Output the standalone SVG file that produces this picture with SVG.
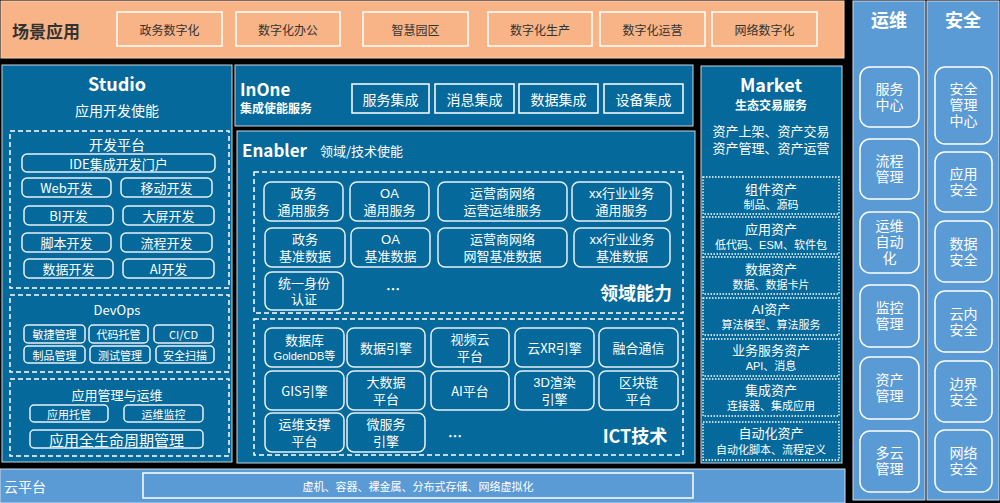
<svg xmlns="http://www.w3.org/2000/svg" width="1000" height="503" viewBox="0 0 1000 503">
<style>
text{font-family:"Noto Sans CJK SC","Noto Sans",sans-serif;fill:#fff;text-anchor:middle;dominant-baseline:central}
text.ml{font-family:"Liberation Sans","Noto Sans CJK SC",sans-serif}
.dk{fill:#333}
.b{font-weight:bold}
.panel{fill:#05699B;stroke:#c8d4dc;stroke-width:1}
.lpanel{fill:#5B9BD5;stroke:#d0dcea;stroke-width:1}
.peach{fill:#F8B486;stroke:#f6d2bc;stroke-width:1}
.wb{fill:none;stroke:#fff;stroke-width:1.5}
.rb{fill:none;stroke:#e8f0f6;stroke-width:1.5}
.dash{fill:none;stroke:#fff;stroke-width:1.5;stroke-dasharray:5 3}
.dot{fill:none;stroke:#fff;stroke-width:1.3;stroke-dasharray:1.5 1.5}
.s12{font-size:12px}.s13{font-size:13px}.s11{font-size:11px}.s14{font-size:14px}
</style>
<rect width="1000" height="503" fill="#000"/>

<g id="scene">
<rect class="peach" x="1" y="1" width="843" height="57"/>
<text class="dk b" x="46" y="30" style="font-size:17px">场景应用</text>
<rect class="wb" x="117" y="12" width="105" height="34"/><text class="dk s12" x="169.5" y="29">政务数字化</text>
<rect class="wb" x="236" y="12" width="104" height="34"/><text class="dk s12" x="288" y="29">数字化办公</text>
<rect class="wb" x="363" y="12" width="105" height="34"/><text class="dk s12" x="415.5" y="29">智慧园区</text>
<rect class="wb" x="488" y="12" width="104" height="34"/><text class="dk s12" x="540" y="29">数字化生产</text>
<rect class="wb" x="600" y="12" width="105" height="34"/><text class="dk s12" x="652.5" y="29">数字化运营</text>
<rect class="wb" x="712" y="12" width="105" height="34"/><text class="dk s12" x="764.5" y="29">网络数字化</text>
</g>

<g id="studio">
<rect class="panel" x="2" y="65" width="230" height="397"/>
<text class="b" x="117" y="83" style="font-size:18px">Studio</text>
<text class="s14" x="117" y="110">应用开发使能</text>
<rect class="dash" x="10" y="131" width="219" height="157"/>
<text class="s14" x="117" y="144">开发平台</text>
<rect class="rb" x="22" y="154" width="193" height="18" rx="5"/><text class="s13" x="118.5" y="163">IDE集成开发门户</text>
<rect class="rb" x="22" y="178" width="89" height="19" rx="5"/><text class="s13" x="66.5" y="187.5">Web开发</text>
<rect class="rb" x="121" y="178" width="91" height="19" rx="5"/><text class="s13" x="166.5" y="187.5">移动开发</text>
<rect class="rb" x="24" y="206" width="89" height="19" rx="5"/><text class="s13" x="68.5" y="215.5">BI开发</text>
<rect class="rb" x="123" y="206" width="91" height="19" rx="5"/><text class="s13" x="168.5" y="215.5">大屏开发</text>
<rect class="rb" x="22" y="233" width="89" height="19" rx="5"/><text class="s13" x="66.5" y="242.5">脚本开发</text>
<rect class="rb" x="121" y="233" width="91" height="19" rx="5"/><text class="s13" x="166.5" y="242.5">流程开发</text>
<rect class="rb" x="24" y="259" width="89" height="19" rx="5"/><text class="s13" x="68.5" y="268.5">数据开发</text>
<rect class="rb" x="123" y="259" width="91" height="19" rx="5"/><text class="s13" x="168.5" y="268.5">AI开发</text>

<rect class="dash" x="10" y="295" width="219" height="77"/>
<text class="s13" x="117" y="309">DevOps</text>
<rect class="rb" x="24" y="325" width="61" height="18" rx="4"/><text class="s11" x="54.5" y="334">敏捷管理</text>
<rect class="rb" x="89" y="325" width="59" height="18" rx="4"/><text class="s11" x="118.5" y="334">代码托管</text>
<rect class="rb" x="154" y="325" width="59" height="18" rx="4"/><text class="s11" x="183.5" y="334">CI/CD</text>
<rect class="rb" x="24" y="346" width="61" height="17" rx="4"/><text class="s11" x="54.5" y="354.5">制品管理</text>
<rect class="rb" x="90" y="346" width="60" height="17" rx="4"/><text class="s11" x="120" y="354.5">测试管理</text>
<rect class="rb" x="156" y="346" width="58" height="17" rx="4"/><text class="s11" x="185" y="354.5">安全扫描</text>

<rect class="dash" x="10" y="379" width="219" height="77"/>
<text class="s13" x="117" y="394">应用管理与运维</text>
<rect class="rb" x="30" y="405" width="78" height="17" rx="4"/><text class="s11" x="69" y="413.5">应用托管</text>
<rect class="rb" x="124" y="405" width="79" height="17" rx="4"/><text class="s11" x="163.5" y="413.5">运维监控</text>
<rect class="rb" x="30" y="430" width="173" height="18" rx="4"/><text x="116.5" y="439" style="font-size:15px">应用全生命周期管理</text>
</g>

<g id="inone">
<rect class="panel" x="235" y="65" width="458" height="61"/>
<text class="b" x="240" y="88" style="font-size:17px;text-anchor:start">InOne</text>
<text class="b s12" x="240" y="107" style="text-anchor:start">集成使能服务</text>
<rect class="wb" x="352" y="84" width="77" height="29"/><text class="s14" x="390.5" y="98.5">服务集成</text>
<rect class="wb" x="435" y="84" width="79" height="29"/><text class="s14" x="474.5" y="98.5">消息集成</text>
<rect class="wb" x="519" y="84" width="79" height="29"/><text class="s14" x="558.5" y="98.5">数据集成</text>
<rect class="wb" x="604" y="84" width="79" height="29"/><text class="s14" x="643.5" y="98.5">设备集成</text>
</g>

<g id="enabler">
<rect class="panel" x="237" y="131" width="458" height="332"/>
<text class="b" x="242" y="149" style="font-size:17px;text-anchor:start">Enabler</text>
<text class="s13" x="320" y="150" style="text-anchor:start">领域/技术使能</text>

<rect class="dash" x="254" y="172" width="429" height="141"/>
<rect class="rb" x="264" y="182" width="79" height="39" rx="7"/><text class="s13 ml" y="193"><tspan x="303.5">政务</tspan><tspan x="303.5" dy="17">通用服务</tspan></text>
<rect class="rb" x="350" y="182" width="79" height="39" rx="7"/><text class="s13 ml" y="193"><tspan x="389.5">OA</tspan><tspan x="389.5" dy="17">通用服务</tspan></text>
<rect class="rb" x="438" y="182" width="129" height="39" rx="7"/><text class="s13 ml" y="193"><tspan x="502.5">运营商网络</tspan><tspan x="502.5" dy="17">运营运维服务</tspan></text>
<rect class="rb" x="572" y="182" width="99" height="39" rx="7"/><text class="s13 ml" y="193"><tspan x="621.5">xx行业业务</tspan><tspan x="621.5" dy="17">通用服务</tspan></text>
<rect class="rb" x="265" y="228" width="80" height="39" rx="7"/><text class="s13 ml" y="239"><tspan x="305">政务</tspan><tspan x="305" dy="17">基准数据</tspan></text>
<rect class="rb" x="351" y="228" width="79" height="39" rx="7"/><text class="s13 ml" y="239"><tspan x="390.5">OA</tspan><tspan x="390.5" dy="17">基准数据</tspan></text>
<rect class="rb" x="438" y="228" width="129" height="39" rx="7"/><text class="s13 ml" y="239"><tspan x="502.5">运营商网络</tspan><tspan x="502.5" dy="17">网智基准数据</tspan></text>
<rect class="rb" x="574" y="228" width="96" height="39" rx="7"/><text class="s13 ml" y="239"><tspan x="622">xx行业业务</tspan><tspan x="622" dy="17">基准数据</tspan></text>
<rect class="rb" x="265" y="272" width="78" height="38" rx="7"/><text class="s13 ml" y="283"><tspan x="304">统一身份</tspan><tspan x="304" dy="16">认证</tspan></text>
<text class="b s14" x="393" y="288">…</text>
<text class="b" x="636" y="292" style="font-size:18px">领域能力</text>

<rect class="dash" x="254" y="319" width="429" height="136"/>
<rect class="rb" x="265" y="328" width="79" height="39" rx="7"/><text class="s13 ml" y="340"><tspan x="304.5">数据库</tspan><tspan x="304.5" dy="16" style="font-size:11px">GoldenDB等</tspan></text>
<rect class="rb" x="347" y="328" width="78" height="39" rx="7"/><text class="s13" x="386" y="347.5">数据引擎</text>
<rect class="rb" x="431" y="328" width="78" height="39" rx="7"/><text class="s13 ml" y="339"><tspan x="470">视频云</tspan><tspan x="470" dy="17">平台</tspan></text>
<rect class="rb" x="515" y="328" width="79" height="39" rx="7"/><text class="s13" x="554.5" y="347.5">云XR引擎</text>
<rect class="rb" x="599" y="328" width="79" height="39" rx="7"/><text class="s13" x="638.5" y="347.5">融合通信</text>
<rect class="rb" x="265" y="371" width="79" height="39" rx="7"/><text class="s13" x="304.5" y="390.5">GIS引擎</text>
<rect class="rb" x="347" y="371" width="78" height="39" rx="7"/><text class="s13 ml" y="382"><tspan x="386">大数据</tspan><tspan x="386" dy="17">平台</tspan></text>
<rect class="rb" x="431" y="371" width="78" height="39" rx="7"/><text class="s13" x="470" y="390.5">AI平台</text>
<rect class="rb" x="515" y="371" width="79" height="39" rx="7"/><text class="s13 ml" y="382"><tspan x="554.5">3D渲染</tspan><tspan x="554.5" dy="17">引擎</tspan></text>
<rect class="rb" x="599" y="371" width="79" height="39" rx="7"/><text class="s13 ml" y="382"><tspan x="638.5">区块链</tspan><tspan x="638.5" dy="17">平台</tspan></text>
<rect class="rb" x="265" y="413" width="79" height="39" rx="7"/><text class="s13 ml" y="424"><tspan x="304.5">运维支撑</tspan><tspan x="304.5" dy="17">平台</tspan></text>
<rect class="rb" x="347" y="413" width="78" height="39" rx="7"/><text class="s13 ml" y="424"><tspan x="386">微服务</tspan><tspan x="386" dy="17">引擎</tspan></text>
<text class="b s14" x="455" y="435">…</text>
<text class="b" x="635" y="435" style="font-size:18px">ICT技术</text>
</g>

<g id="market">
<rect class="panel" x="701" y="66" width="141" height="397"/>
<text class="b" x="771" y="84" style="font-size:18px">Market</text>
<text class="b s12" x="771" y="104">生态交易服务</text>
<text class="s13 ml" y="131"><tspan x="771">资产上架、资产交易</tspan><tspan x="771" dy="17">资产管理、资产运营</tspan></text>
<rect class="dot" x="703" y="177" width="136" height="37"/><text class="s13 ml" y="189"><tspan x="771">组件资产</tspan><tspan x="771" dy="16" style="font-size:11px">制品、源码</tspan></text>
<rect class="dot" x="703" y="217" width="136" height="37"/><text class="s13 ml" y="229"><tspan x="771">应用资产</tspan><tspan x="771" dy="16" style="font-size:11px">低代码、ESM、软件包</tspan></text>
<rect class="dot" x="703" y="257" width="136" height="37"/><text class="s13 ml" y="269"><tspan x="771">数据资产</tspan><tspan x="771" dy="16" style="font-size:11px">数据、数据卡片</tspan></text>
<rect class="dot" x="703" y="298" width="136" height="37"/><text class="s13 ml" y="309"><tspan x="771">AI资产</tspan><tspan x="771" dy="16" style="font-size:11px">算法模型、算法服务</tspan></text>
<rect class="dot" x="703" y="339" width="136" height="37"/><text class="s13 ml" y="350"><tspan x="771">业务服务资产</tspan><tspan x="771" dy="16" style="font-size:11px">API、消息</tspan></text>
<rect class="dot" x="703" y="379" width="136" height="37"/><text class="s13 ml" y="390"><tspan x="771">集成资产</tspan><tspan x="771" dy="16" style="font-size:11px">连接器、集成应用</tspan></text>
<rect class="dot" x="703" y="422" width="136" height="38"/><text class="s13 ml" y="433"><tspan x="771">自动化资产</tspan><tspan x="771" dy="17" style="font-size:11px">自动化脚本、流程定义</tspan></text>
</g>

<g id="ops">
<rect class="lpanel" x="853" y="1" width="72" height="499"/>
<text class="b" x="889" y="19" style="font-size:18px">运维</text>
<rect class="wb" x="860" y="67" width="59" height="60" rx="10"/><text class="s14 ml" y="89"><tspan x="889.5">服务</tspan><tspan x="889.5" dy="16">中心</tspan></text>
<rect class="wb" x="860" y="139" width="59" height="60" rx="10"/><text class="s14 ml" y="161"><tspan x="889.5">流程</tspan><tspan x="889.5" dy="16">管理</tspan></text>
<rect class="wb" x="860" y="212" width="59" height="61" rx="10"/><text class="s14 ml" y="226"><tspan x="889.5">运维</tspan><tspan x="889.5" dy="16">自动</tspan><tspan x="889.5" dy="16">化</tspan></text>
<rect class="wb" x="860" y="285" width="59" height="62" rx="10"/><text class="s14 ml" y="308"><tspan x="889.5">监控</tspan><tspan x="889.5" dy="16">管理</tspan></text>
<rect class="wb" x="860" y="357" width="59" height="62" rx="10"/><text class="s14 ml" y="380"><tspan x="889.5">资产</tspan><tspan x="889.5" dy="16">管理</tspan></text>
<rect class="wb" x="860" y="431" width="59" height="61" rx="10"/><text class="s14 ml" y="453"><tspan x="889.5">多云</tspan><tspan x="889.5" dy="16">管理</tspan></text>
</g>

<g id="security">
<rect class="lpanel" x="927" y="1" width="72" height="499"/>
<text class="b" x="963" y="19" style="font-size:18px">安全</text>
<rect class="wb" x="935" y="67" width="57" height="77" rx="10"/><text class="s14 ml" y="89"><tspan x="963.5">安全</tspan><tspan x="963.5" dy="16">管理</tspan><tspan x="963.5" dy="16">中心</tspan></text>
<rect class="wb" x="935" y="152" width="57" height="60" rx="10"/><text class="s14 ml" y="174"><tspan x="963.5">应用</tspan><tspan x="963.5" dy="16">安全</tspan></text>
<rect class="wb" x="935" y="221" width="57" height="61" rx="10"/><text class="s14 ml" y="244"><tspan x="963.5">数据</tspan><tspan x="963.5" dy="16">安全</tspan></text>
<rect class="wb" x="935" y="291" width="57" height="61" rx="10"/><text class="s14 ml" y="314"><tspan x="963.5">云内</tspan><tspan x="963.5" dy="16">安全</tspan></text>
<rect class="wb" x="935" y="361" width="57" height="61" rx="10"/><text class="s14 ml" y="384"><tspan x="963.5">边界</tspan><tspan x="963.5" dy="16">安全</tspan></text>
<rect class="wb" x="935" y="430" width="57" height="62" rx="10"/><text class="s14 ml" y="453"><tspan x="963.5">网络</tspan><tspan x="963.5" dy="16">安全</tspan></text>
</g>

<g id="cloud">
<rect class="lpanel" x="0" y="469" width="845" height="34"/>
<text class="s14" x="4" y="486" style="text-anchor:start">云平台</text>
<rect class="wb" x="143" y="473" width="550" height="25"/>
<text class="s11" x="418" y="486">虚机、容器、裸金属、分布式存储、网络虚拟化</text>
</g>
<g id="connectors"></g>
</svg>
